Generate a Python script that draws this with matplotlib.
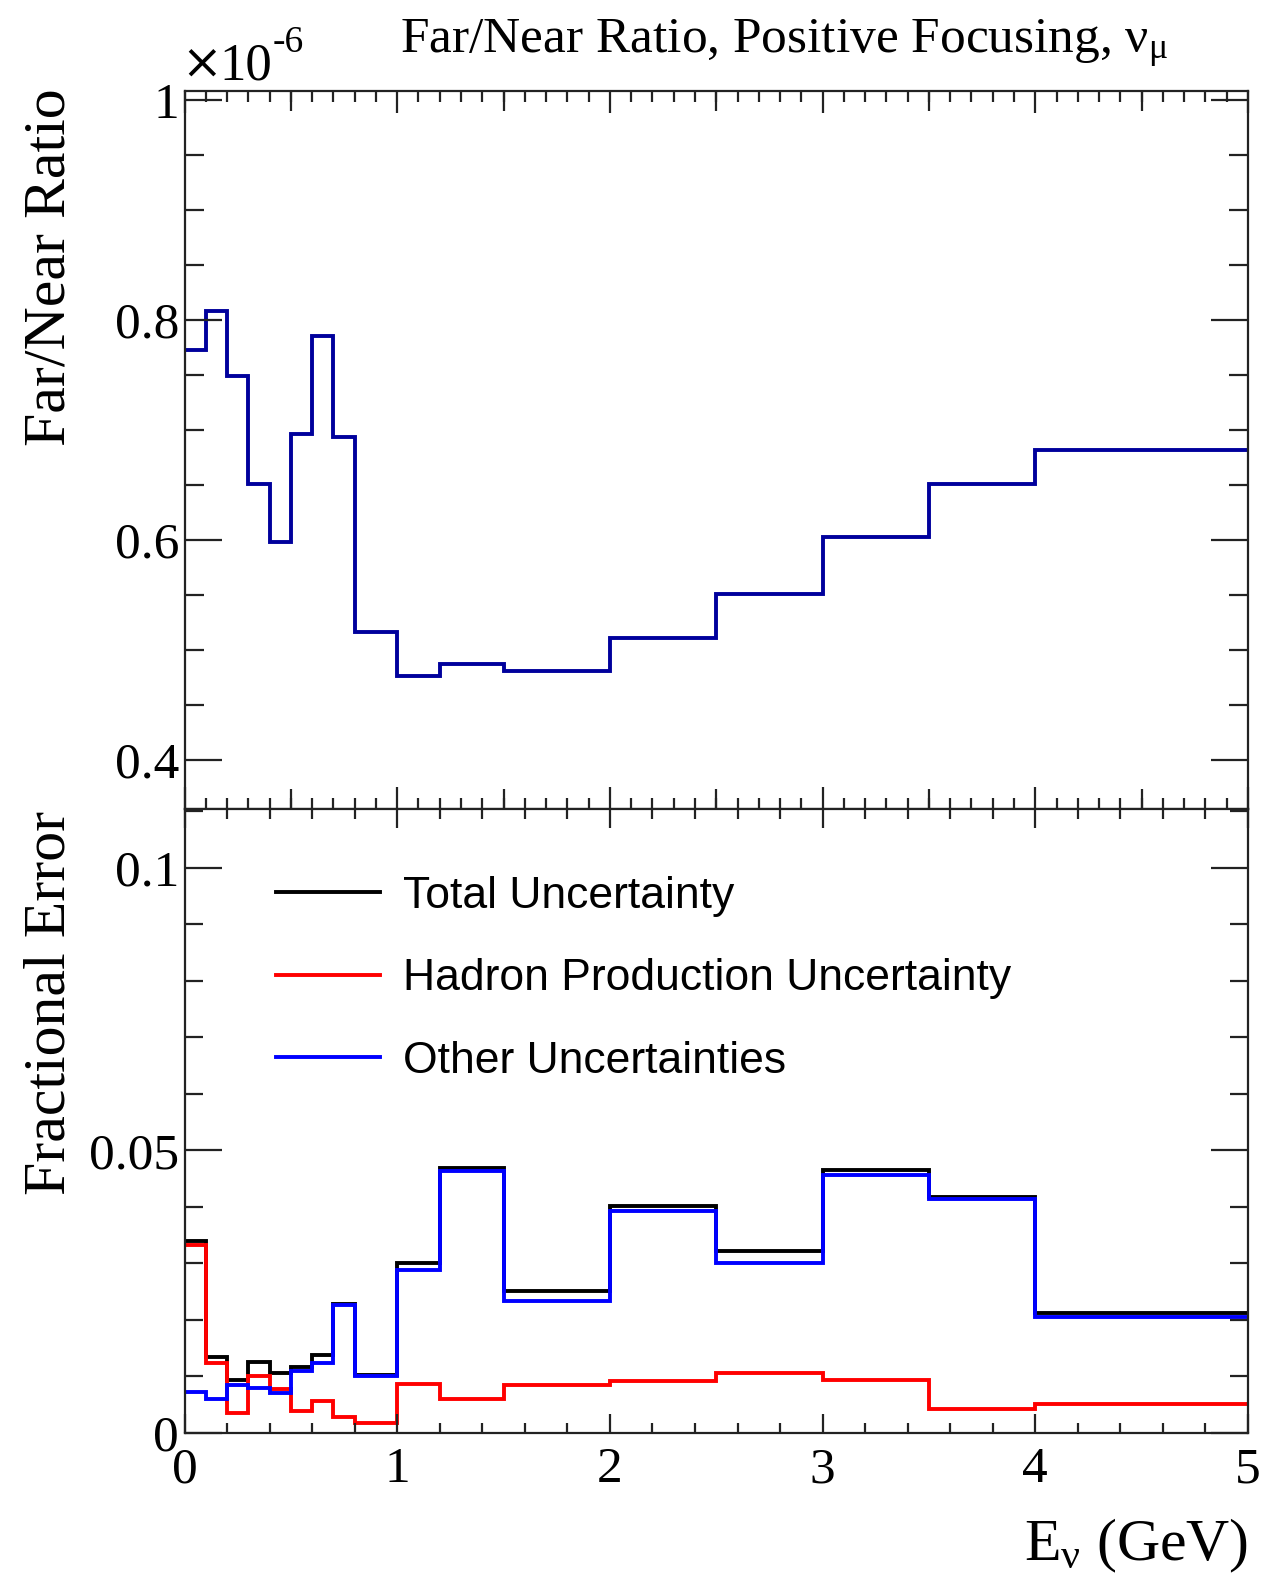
import matplotlib
matplotlib.use("Agg")
import matplotlib.pyplot as plt
import numpy as np
from matplotlib.ticker import MultipleLocator, FixedLocator, FuncFormatter
from matplotlib.lines import Line2D

plt.rcParams['font.family'] = ['Liberation Serif', 'DejaVu Serif']
plt.rcParams['mathtext.fontset'] = 'custom'
plt.rcParams['mathtext.rm'] = 'Liberation Serif'
plt.rcParams['mathtext.it'] = 'Liberation Serif:italic'
plt.rcParams['mathtext.bf'] = 'Liberation Serif:bold'

# ---- data ----
bin_edges = [0.0, 0.1, 0.2, 0.3, 0.4, 0.5, 0.6, 0.7, 0.8, 0.9, 1.0,
             1.2, 1.5, 2.0, 2.5, 3.0, 3.5, 4.0, 5.0]
# Far/Near ratio in units of 1e-6
ratio_e6 = [0.773, 0.808, 0.749, 0.651, 0.598, 0.696, 0.785, 0.694, 0.516, 0.516,
            0.476, 0.487, 0.481, 0.511, 0.551, 0.603, 0.651, 0.682]
total_unc = [0.0340, 0.0135, 0.0093, 0.0126, 0.0107, 0.0117, 0.0138, 0.0228, 0.0102, 0.0102,
             0.0301, 0.0468, 0.0252, 0.0402, 0.0322, 0.0466, 0.0418, 0.0212]
hadron_unc = [0.0333, 0.0123, 0.0035, 0.0100, 0.0077, 0.0039, 0.0057, 0.0029, 0.0017, 0.0017,
              0.0086, 0.0061, 0.0085, 0.0092, 0.0107, 0.0093, 0.0042, 0.0051]
other_unc = [0.0072, 0.0061, 0.0085, 0.0079, 0.0071, 0.0110, 0.0124, 0.0227, 0.0101, 0.0101,
             0.0288, 0.0464, 0.0234, 0.0393, 0.0301, 0.0456, 0.0414, 0.0206]
legend_labels = ["Total Uncertainty", "Hadron Production Uncertainty", "Other Uncertainties"]

W, H = 1264, 1580
fig = plt.figure(figsize=(W / 100, H / 100), dpi=100)

x0, x1 = 184.5, 1248
ytop, ymid, ybot = 91, 809, 1433
ax1 = fig.add_axes([x0 / W, 1 - ymid / H, (x1 - x0) / W, (ymid - ytop) / H])
ax2 = fig.add_axes([x0 / W, 1 - ybot / H, (x1 - x0) / W, (ybot - ymid) / H])

pt = 72 / 100.0  # px -> pt
frame_c = '#222222'

def style(ax):
    for s in ax.spines.values():
        s.set_linewidth(1.6)
        s.set_color(frame_c)

style(ax1)
style(ax2)

lw_hist = 2.8
ax1.stairs(ratio_e6, bin_edges, baseline=None, color='#00009c', lw=lw_hist)
ax1.set_xlim(0, 5)
ax1.set_ylim(0.3555, 1.008)

ax2.stairs(total_unc, bin_edges, baseline=None, color='black', lw=lw_hist)
ax2.stairs(hadron_unc, bin_edges, baseline=None, color='#ff0000', lw=lw_hist)
ax2.stairs(other_unc, bin_edges, baseline=None, color='#0000ff', lw=lw_hist)
ax2.set_xlim(0, 5)
ax2.set_ylim(0, 0.1104)

fmt = FuncFormatter(lambda v, p: '%g' % round(v, 4))

# top panel ticks
ax1.yaxis.set_major_locator(FixedLocator([0.4, 0.6, 0.8, 1.0]))
ax1.yaxis.set_minor_locator(MultipleLocator(0.05))
ax1.yaxis.set_major_formatter(fmt)
ax1.xaxis.set_major_locator(MultipleLocator(1))
ax1.xaxis.set_minor_locator(MultipleLocator(0.1))
ax1.tick_params(axis='both', which='both', direction='in', top=True, right=True,
                width=1.6, color=frame_c)
ax1.tick_params(axis='y', which='major', length=37 * pt, labelsize=37, pad=4)
ax1.tick_params(axis='y', which='minor', length=19 * pt)
ax1.tick_params(axis='x', which='major', length=22 * pt, labelbottom=False)
ax1.tick_params(axis='x', which='minor', length=11 * pt)
for side in ('top', 'bottom'):
    sec = ax1.secondary_xaxis(side)
    sec.set_xticks([0.5, 1.5, 2.5, 3.5, 4.5])
    sec.tick_params(direction='in', length=20 * pt, width=1.6, color=frame_c,
                    labelbottom=False, labeltop=False)
    sec.spines[side].set_visible(False)
    sec.xaxis.set_minor_locator(FixedLocator([]))

# bottom panel ticks
ax2.yaxis.set_major_locator(FixedLocator([0.0, 0.05, 0.1]))
ax2.yaxis.set_minor_locator(MultipleLocator(0.01))
ax2.yaxis.set_major_formatter(fmt)
ax2.xaxis.set_major_locator(MultipleLocator(1))
ax2.xaxis.set_minor_locator(MultipleLocator(0.2))
ax2.xaxis.set_major_formatter(fmt)
ax2.tick_params(axis='both', which='both', direction='in', top=True, right=True,
                width=1.6, color=frame_c)
ax2.tick_params(axis='y', which='major', length=37 * pt, labelsize=37, pad=4)
ax2.tick_params(axis='y', which='minor', length=18 * pt)
ax2.tick_params(axis='x', which='major', length=19 * pt, labelsize=37, pad=10)
ax2.tick_params(axis='x', which='minor', length=10 * pt)

# labels
fig.text(51 / W, 1 - 88 / H, 'Far/Near Ratio', rotation=90, ha='center', va='top', fontsize=43)
fig.text(51 / W, 1 - 811 / H, 'Fractional Error', rotation=90, ha='center', va='top', fontsize=43)
fig.text(1248 / W, 1 - 1560 / H, r'E$_{\mathrm{ν}}$ (GeV)', ha='right', va='baseline', fontsize=43)
fig.text(784 / W, 1 - 53 / H, r'Far/Near Ratio, Positive Focusing, $\mathrm{ν}_{\mathrm{μ}}$',
         ha='center', va='baseline', fontsize=37)
fig.text(181 / W, 1 - 79 / H, '×', ha='left', va='baseline', fontsize=35,
         family=['DejaVu Serif'])
fig.text(219 / W, 1 - 79 / H, '10', ha='left', va='baseline', fontsize=38)
fig.text(273 / W, 1 - 52 / H, '-6', ha='left', va='baseline', fontsize=27)

# legend
handles = [Line2D([], [], color='black', lw=lw_hist),
           Line2D([], [], color='#ff0000', lw=lw_hist),
           Line2D([], [], color='#0000ff', lw=lw_hist)]
leg = ax2.legend(handles, legend_labels, loc='upper left',
                 bbox_to_anchor=(276 / W, 1 - 876 / H), bbox_transform=fig.transFigure,
                 frameon=False, prop={'family': 'Liberation Sans', 'size': 32},
                 handlelength=2.35, handletextpad=0.5, labelspacing=0.93,
                 borderpad=0, borderaxespad=0)

fig.savefig('out.png', dpi=100)
